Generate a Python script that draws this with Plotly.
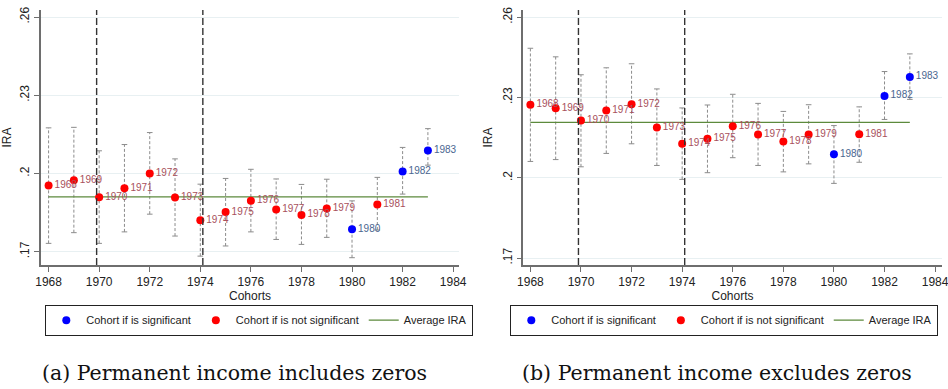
import plotly.graph_objects as go

cohorts = [1968, 1969, 1970, 1971, 1972, 1973, 1974, 1975, 1976, 1977, 1978, 1979, 1980, 1981, 1982, 1983]
significant = [1980, 1982, 1983]

# Panel (a): permanent income includes zeros
ira_a = [0.1954, 0.1974, 0.1909, 0.1943, 0.2000, 0.1908, 0.1821, 0.1852,
         0.1895, 0.1862, 0.1841, 0.1866, 0.1786, 0.1881, 0.2008, 0.2088]
lo_a = [0.1732, 0.1773, 0.1732, 0.1776, 0.1844, 0.1760, 0.1683, 0.1722,
        0.1776, 0.1747, 0.1728, 0.1755, 0.1677, 0.1783, 0.1921, 0.2032]
hi_a = [0.2175, 0.2177, 0.2087, 0.2111, 0.2157, 0.2056, 0.1959, 0.1981,
        0.2016, 0.1979, 0.1958, 0.1978, 0.1895, 0.1985, 0.2100, 0.2172]
avg_a = 0.1910

# Panel (b): permanent income excludes zeros
ira_b = [0.2273, 0.2260, 0.2214, 0.2251, 0.2275, 0.2188, 0.2127, 0.2146,
         0.2193, 0.2162, 0.2136, 0.2162, 0.2088, 0.2163, 0.2306, 0.2377]
lo_b = [0.2061, 0.2068, 0.2041, 0.2091, 0.2127, 0.2046, 0.1994, 0.2019,
        0.2075, 0.2046, 0.2022, 0.2052, 0.1979, 0.2058, 0.2218, 0.2293]
hi_b = [0.2484, 0.2452, 0.2385, 0.2411, 0.2426, 0.2332, 0.2261, 0.2272,
        0.2312, 0.2278, 0.2248, 0.2273, 0.2195, 0.2265, 0.2397, 0.2463]
avg_b = 0.2207

event_years = [1969.9, 1974.1]
y_ticks = [0.17, 0.2, 0.23, 0.26]
y_ticktext = [".17", ".2", ".23", ".26"]
x_ticks = [1968, 1970, 1972, 1974, 1976, 1978, 1980, 1982, 1984]
captions = ["(a) Permanent income includes zeros", "(b) Permanent income excludes zeros"]
legend_names = ["Cohort if is significant", "Cohort if is not significant", "Average IRA"]

FONT = "Liberation Sans, Arial, sans-serif"
RED, BLUE, GREEN = "#ff0000", "#0000ff", "#5c8a3c"
RED_TXT, BLUE_TXT = "#a8505c", "#4a6690"
CI_COL = "#8c8c8c"

fig = go.Figure()


def add_panel(ira, lo, hi, avg, xa, ya, leg):
    ci_x, ci_y = [], []
    for c, l, h in zip(cohorts, lo, hi):
        ci_x += [c, c, None]
        ci_y += [l, h, None]
    fig.add_trace(go.Scatter(x=ci_x, y=ci_y, mode="lines", xaxis=xa, yaxis=ya,
                             line=dict(color=CI_COL, width=1, dash="3px,2px"),
                             showlegend=False, hoverinfo="skip"))
    fig.add_trace(go.Scatter(x=cohorts + cohorts, y=lo + hi, mode="markers", xaxis=xa, yaxis=ya,
                             marker=dict(symbol="line-ew", size=4, line=dict(color=CI_COL, width=1)),
                             showlegend=False, hoverinfo="skip"))
    fig.add_trace(go.Scatter(x=[cohorts[0], cohorts[-1]], y=[avg, avg], mode="lines",
                             xaxis=xa, yaxis=ya, line=dict(color=GREEN, width=1.2),
                             name=legend_names[2], legend=leg, legendrank=3))
    for sig, col, tcol, name, rank in [(True, BLUE, BLUE_TXT, legend_names[0], 1),
                                       (False, RED, RED_TXT, legend_names[1], 2)]:
        xs = [c for c in cohorts if (c in significant) == sig]
        ys = [v for c, v in zip(cohorts, ira) if (c in significant) == sig]
        fig.add_trace(go.Scatter(x=xs, y=ys, mode="markers", xaxis=xa, yaxis=ya,
                                 marker=dict(color=col, size=8),
                                 name=name, legend=leg, legendrank=rank))
        fig.add_trace(go.Scatter(x=xs, y=ys, mode="markers+text", xaxis=xa, yaxis=ya,
                                 marker=dict(color="rgba(0,0,0,0)", size=8),
                                 text=[str(c) for c in xs], textposition="middle right",
                                 textfont=dict(family=FONT, size=10, color=tcol),
                                 showlegend=False, hoverinfo="skip"))
    for ev in event_years:
        fig.add_shape(type="line", x0=ev, x1=ev, y0=0, y1=1, xref=xa, yref=f"{ya} domain",
                      line=dict(color="#333333", width=1.4, dash="7px,3px"))


add_panel(ira_a, lo_a, hi_a, avg_a, "x", "y", "legend")
add_panel(ira_b, lo_b, hi_b, avg_b, "x2", "y2", "legend2")

axis_common = dict(showline=True, linecolor="#6e6e6e", linewidth=1.5, ticks="outside",
                   ticklen=5, tickcolor="#6e6e6e", tickfont=dict(family=FONT, size=12, color="#222"),
                   zeroline=False, ticklabeloverflow="allow")
ydom = [1 - 265 / 389, 1 - 10 / 389]
leg_common = dict(orientation="h", y=1 - 304.7 / 389, yanchor="top",
                  bordercolor="#222", borderwidth=1, itemwidth=30,
                  font=dict(family=FONT, size=11, color="#222"), bgcolor="white")
fig.update_layout(
    width=948, height=389, margin=dict(l=0, r=0, t=0, b=0, autoexpand=False),
    paper_bgcolor="white", plot_bgcolor="white",
    xaxis=dict(domain=[41 / 948, 459 / 948], range=[1967.70, 1984.23], tickvals=x_ticks,
               showgrid=False, anchor="y",
               title=dict(text="Cohorts", font=dict(family=FONT, size=12, color="#222"), standoff=2),
               **axis_common),
    yaxis=dict(domain=ydom, range=[0.1649, 0.2627], tickvals=y_ticks, ticktext=y_ticktext,
               tickangle=-90, showgrid=True, gridcolor="#e8f0f2", gridwidth=1, anchor="x",
               title=dict(text="IRA", font=dict(family=FONT, size=12, color="#222"), standoff=6),
               **axis_common),
    xaxis2=dict(domain=[523.3 / 948, 941.7 / 948], range=[1967.72, 1984.26], tickvals=x_ticks,
                showgrid=False, anchor="y2",
                title=dict(text="Cohorts", font=dict(family=FONT, size=12, color="#222"), standoff=2),
                **axis_common),
    yaxis2=dict(domain=ydom, range=[0.1674, 0.2627], tickvals=y_ticks, ticktext=y_ticktext,
                tickangle=-90, showgrid=True, gridcolor="#e8f0f2", gridwidth=1, anchor="x2",
                title=dict(text="IRA", font=dict(family=FONT, size=12, color="#222"), standoff=6),
                **axis_common),
    legend=dict(x=45.3 / 948, xanchor="left", **leg_common),
    legend2=dict(x=938.3 / 948, xanchor="right", **leg_common),
    showlegend=True,
)

for cap, cx in zip(captions, [234 / 948, 716.7 / 948]):
    fig.add_annotation(text=cap, x=cx, y=1 - 373 / 389, xref="paper", yref="paper",
                       showarrow=False, xanchor="center", yanchor="middle",
                       font=dict(family="DejaVu Serif, serif", size=20.5, color="#111"))

fig.write_html("out.html")
